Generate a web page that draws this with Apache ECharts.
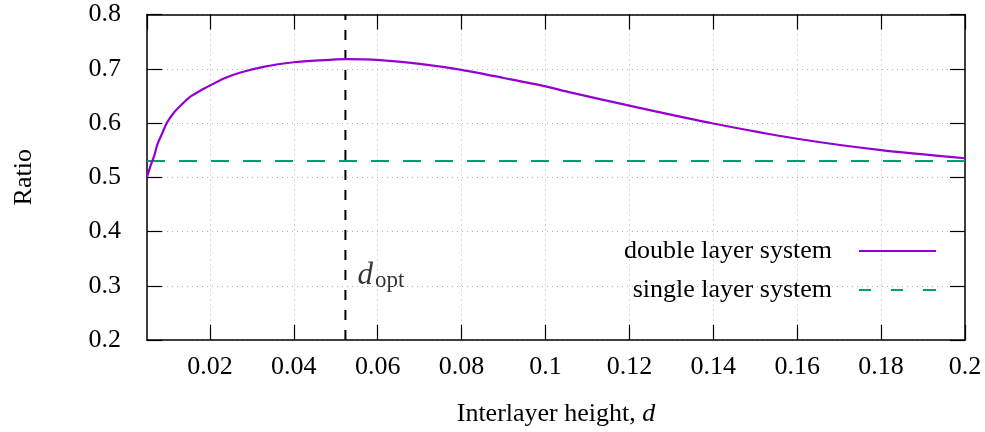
<!DOCTYPE html>
<html>
<head>
<meta charset="utf-8">
<script src="https://cdn.jsdelivr.net/npm/echarts@6/dist/echarts.min.js"></script>
<style>
  html, body { margin: 0; padding: 0; background: #fff; }
  #chart { width: 985px; height: 432px; }
</style>
</head>
<body>
<div id="chart"></div>
<script>
// Interlayer height d and the resulting ratio for the double layer system
const heights = [0.005, 0.0058, 0.0067, 0.0075, 0.0087, 0.0097, 0.0114, 0.0134, 0.0154, 0.0178, 0.02,
  0.0233, 0.0273, 0.033, 0.04, 0.046, 0.0525, 0.0606, 0.07, 0.08, 0.09, 0.1, 0.1059, 0.12, 0.14, 0.16, 0.18, 0.2];
const doubleLayer = [0.500, 0.520, 0.539, 0.561, 0.582, 0.600, 0.619, 0.635, 0.649, 0.660, 0.669,
  0.682, 0.693, 0.704, 0.712, 0.7155, 0.7178, 0.716, 0.709, 0.698, 0.683, 0.6675, 0.6565, 0.632, 0.599, 0.571, 0.550, 0.535];
// Single layer system: constant ratio across the range
const singleHeights = [0.005, 0.2];
const singleLayer = [0.53, 0.53];
// Optimal interlayer height, the ratio span of its marker line and where its label sits
const dOpt = 0.0523;
const dOptSpan = [0.2, 0.8];
const dOptLabelRatio = 0.318;

const seriesNames = ['double layer system', 'single layer system'];
const FONT = 'Liberation Serif';
const FS = 26;

const chart = echarts.init(document.getElementById('chart'), null, { renderer: 'canvas' });

const borderAxisLine = { show: true, lineStyle: { color: '#000', width: 1.5 } };
const innerTicks = { show: true, inside: true, length: 15, lineStyle: { color: '#000', width: 1.2 } };
const dottedGrid = { show: true, lineStyle: { color: '#b0b0b0', type: [1, 4], width: 1 } };

chart.setOption({
  animation: false,
  backgroundColor: '#fff',
  grid: { left: 147, right: 20, top: 14.5, bottom: 90.5 },
  xAxis: [
    {
      type: 'value', min: 0.005, max: 0.2, splitNumber: 10, position: 'bottom',
      axisLine: borderAxisLine, axisTick: innerTicks, splitLine: dottedGrid,
      axisLabel: { showMinLabel: false, margin: 14, color: '#000', fontFamily: FONT, fontSize: FS },
      name: 'Interlayer height, {i|d}', nameLocation: 'middle', nameGap: 61,
      nameTextStyle: {
        color: '#000', fontFamily: FONT, fontSize: FS,
        rich: { i: { fontStyle: 'italic', fontFamily: FONT, fontSize: FS, color: '#000' } }
      }
    },
    {
      type: 'value', min: 0.005, max: 0.2, splitNumber: 10, position: 'top',
      axisLine: borderAxisLine, axisTick: innerTicks, splitLine: { show: false },
      axisLabel: { show: false }
    }
  ],
  yAxis: [
    {
      type: 'value', min: 0.2, max: 0.8, interval: 0.1, position: 'left',
      axisLine: borderAxisLine, axisTick: innerTicks, splitLine: dottedGrid,
      axisLabel: { margin: 26, color: '#000', fontFamily: FONT, fontSize: FS },
      name: 'Ratio', nameLocation: 'middle', nameRotate: 90, nameGap: 110,
      nameTextStyle: { color: '#000', fontFamily: FONT, fontSize: FS }
    },
    {
      type: 'value', min: 0.2, max: 0.8, interval: 0.1, position: 'right',
      axisLine: borderAxisLine, axisTick: innerTicks, splitLine: { show: false },
      axisLabel: { show: false }
    }
  ],
  legend: {
    data: [
      { name: seriesNames[0], icon: 'path://M0,0h77v2h-77z' },
      { name: seriesNames[1], icon: 'path://M0,0h12v2h-12z M32,0h12v2h-12z M64,0h13v2h-13z' }
    ],
    orient: 'vertical', right: 44, top: 233, align: 'right',
    itemWidth: 77, itemHeight: 2.4, itemGap: 13,
    textStyle: { color: '#000', fontFamily: FONT, fontSize: FS, padding: [0, 22, 0, 0] }
  },
  series: [
    {
      name: seriesNames[0], type: 'line', xAxisIndex: 0, yAxisIndex: 0,
      data: heights.map((d, i) => [d, doubleLayer[i]]),
      smooth: 0.25, showSymbol: false, symbol: 'none',
      lineStyle: { color: '#9400d3', width: 2.2 }, itemStyle: { color: '#9400d3' },
      z: 3
    },
    {
      name: seriesNames[1], type: 'line', xAxisIndex: 0, yAxisIndex: 0,
      data: singleHeights.map((d, i) => [d, singleLayer[i]]),
      showSymbol: false, symbol: 'none',
      lineStyle: { color: '#009e73', width: 2.2, type: [18, 14] }, itemStyle: { color: '#009e73' },
      z: 2
    },
    {
      name: 'd_opt line', type: 'line', xAxisIndex: 0, yAxisIndex: 0,
      data: dOptSpan.map(v => [dOpt, v]),
      showSymbol: false, symbol: 'none', silent: true,
      lineStyle: { color: '#000', width: 2, type: [10, 10] },
      z: 2
    },
    {
      name: 'd_opt label', type: 'scatter', xAxisIndex: 0, yAxisIndex: 0,
      data: [[dOpt, dOptLabelRatio]], symbolSize: 0, silent: true,
      label: {
        show: true, position: 'right', distance: 12,
        formatter: '{d|d}{s|opt}',
        rich: {
          d: { fontFamily: FONT, fontStyle: 'italic', fontSize: 31, color: '#000', verticalAlign: 'top', lineHeight: 32 },
          s: { fontFamily: FONT, fontSize: 23, color: '#000', verticalAlign: 'bottom', lineHeight: 23, padding: [14, 0, 0, 2] }
        }
      }
    }
  ]
});
</script>
</body>
</html>
